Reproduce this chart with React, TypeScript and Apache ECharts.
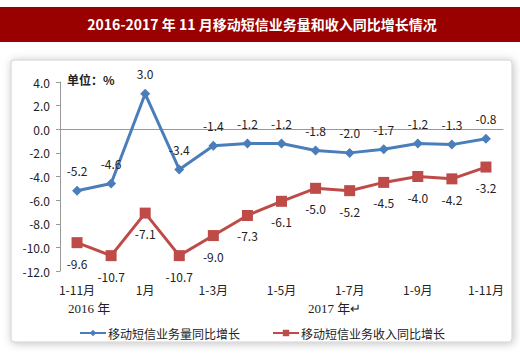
import React, { useEffect, useRef } from "react";
import * as echarts from "echarts";

const categories = ["1-11月", "1-12月", "1月", "1-2月", "1-3月", "1-4月", "1-5月", "1-6月", "1-7月", "1-8月", "1-9月", "1-10月", "1-11月"];
const volumeGrowth = [-5.2, -4.6, 3.0, -3.4, -1.4, -1.2, -1.2, -1.8, -2.0, -1.7, -1.2, -1.3, -0.8];
const revenueGrowth = [-9.6, -10.7, -7.1, -10.7, -9.0, -7.3, -6.1, -5.0, -5.2, -4.5, -4.0, -4.2, -3.2];
const seriesNames = ["移动短信业务量同比增长", "移动短信业务收入同比增长"];
const titleText = "2016-2017 年 11 月移动短信业务量和收入同比增长情况";

export default function App() {
  const ref = useRef<HTMLDivElement>(null);
  useEffect(() => {
    document.body.style.margin = "0";
    const chart = echarts.init(ref.current!, undefined, { renderer: "svg" });
    const font = "'Noto Sans CJK SC', 'Noto Sans', sans-serif";
    chart.setOption({
      animation: false,
      backgroundColor: "#ffffff",
      textStyle: { fontFamily: font },
      graphic: [
        {
          type: "rect",
          z: -10,
          shape: { x: 11, y: 60, width: 501, height: 282, r: 3 },
          style: { fill: "#ffffff", stroke: "#d0d0d0", lineWidth: 1, shadowBlur: 8, shadowColor: "rgba(0,0,0,0.25)", shadowOffsetX: 1, shadowOffsetY: 1 },
        },
        {
          type: "rect",
          shape: { x: 0, y: 7, width: 520, height: 35 },
          style: { fill: "#990000" },
        },
        {
          type: "text",
          x: 262,
          y: 24,
          style: { text: titleText, fill: "#ffffff", font: `bold 14px ${font}`, align: "center", verticalAlign: "middle" },
        },
        {
          type: "text",
          x: 67,
          y: 79,
          style: { text: "单位：%", fill: "#222", font: `bold 12px ${font}`, verticalAlign: "middle" },
        },
        {
          type: "text",
          x: 68,
          y: 308,
          style: { text: "2016 年", fill: "#222", font: `13px 'Liberation Serif', 'Noto Sans CJK SC', serif`, verticalAlign: "middle" },
        },
        {
          type: "text",
          x: 308,
          y: 308,
          style: { text: "2017 年↵", fill: "#222", font: `13px 'Liberation Serif', 'Noto Sans CJK SC', serif`, verticalAlign: "middle" },
        },
      ],
      legend: {
        left: 74,
        top: 322,
        itemWidth: 26,
        itemHeight: 8,
        itemGap: 32,
        lineStyle: { width: 2 },
        textStyle: { fontSize: 12, color: "#222", fontFamily: font, padding: [0, 0, 0, -3] },
        data: seriesNames,
      },
      grid: { left: 60, right: 17, top: 82, bottom: 83 },
      xAxis: {
        type: "category",
        data: categories,
        boundaryGap: true,
        axisLine: { lineStyle: { color: "#999" } },
        axisTick: { interval: 1, lineStyle: { color: "#999" }, length: 4, inside: true },
        axisLabel: { interval: 1, color: "#222", fontSize: 12, margin: 12, fontFamily: font },
      },
      yAxis: {
        type: "value",
        min: -12,
        max: 4,
        interval: 2,
        splitLine: { show: false },
        axisLine: { show: true, lineStyle: { color: "#999" } },
        axisTick: { show: true, length: 4, lineStyle: { color: "#999" } },
        axisLabel: { color: "#222", fontSize: 12, margin: 10, formatter: (v: number) => v.toFixed(1), fontFamily: font },
      },
      series: [
        {
          name: seriesNames[0],
          type: "line",
          data: volumeGrowth,
          symbol: "diamond",
          symbolSize: 10,
          lineStyle: { width: 3, color: "#4a7ebb" },
          itemStyle: { color: "#4a7ebb" },
          label: { show: true, position: "top", distance: 9, color: "#222", fontSize: 12, formatter: (p: any) => p.value.toFixed(1) },
        },
        {
          name: seriesNames[1],
          type: "line",
          data: revenueGrowth,
          symbol: "rect",
          symbolSize: 11,
          lineStyle: { width: 3, color: "#be4b48" },
          itemStyle: { color: "#be4b48" },
          label: { show: true, position: "bottom", distance: 9, color: "#222", fontSize: 12, formatter: (p: any) => p.value.toFixed(1) },
        },
      ],
    });
    return () => chart.dispose();
  }, []);
  return <div ref={ref} style={{ position: "fixed", left: 0, top: 0, width: 520, height: 354 }} />;
}
